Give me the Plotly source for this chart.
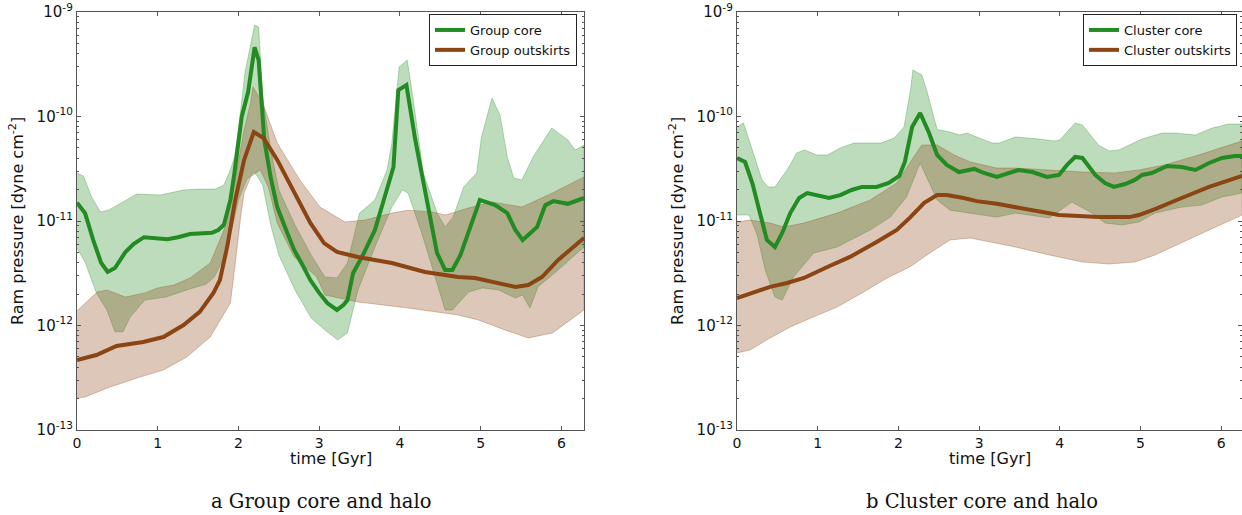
import plotly.graph_objects as go

# ---------------- Left panel: Group ----------------
g_core_t = [0.0, 0.1, 0.2, 0.3, 0.38, 0.47, 0.6, 0.7, 0.83, 1.0, 1.12, 1.25, 1.4, 1.67, 1.75, 1.82, 1.9,
            1.95, 2.04, 2.12, 2.2, 2.25, 2.32, 2.4, 2.48, 2.6, 2.69, 2.8, 2.89, 3.0, 3.1, 3.22, 3.3, 3.35,
            3.42, 3.53, 3.69, 3.8, 3.92, 3.98, 4.08, 4.19, 4.33, 4.46, 4.56, 4.65, 4.75, 4.87, 4.99, 5.18,
            5.33, 5.43, 5.52, 5.7, 5.8, 5.9, 6.08, 6.28]
g_core = [1.5e-11, 1.19e-11, 6.6e-12, 3.96e-12, 3.25e-12, 3.55e-12, 5.05e-12, 6.0e-12, 7.0e-12, 6.9e-12,
          6.7e-12, 7.0e-12, 7.5e-12, 7.7e-12, 8.2e-12, 9.2e-12, 1.59e-11, 2.88e-11, 9.9e-11, 1.72e-10,
          4.6e-10, 3.47e-10, 5.96e-11, 2.58e-11, 1.36e-11, 7.85e-12, 5.28e-12, 3.71e-12, 2.72e-12, 2.05e-12,
          1.64e-12, 1.41e-12, 1.57e-12, 1.75e-12, 3.18e-12, 4.53e-12, 8.2e-12, 1.59e-11, 3.29e-11, 1.79e-10,
          2.0e-10, 5.96e-11, 1.59e-11, 4.94e-12, 3.4e-12, 3.4e-12, 4.73e-12, 8.77e-12, 1.59e-11, 1.42e-11,
          1.19e-11, 8.2e-12, 6.58e-12, 8.77e-12, 1.42e-11, 1.55e-11, 1.46e-11, 1.66e-11]

g_core_hi_t = [0.0, 0.08, 0.18, 0.29, 0.39, 0.55, 0.74, 1.03, 1.32, 1.5, 1.71, 1.82, 1.9, 1.95, 2.0, 2.08,
               2.2, 2.25, 2.3, 2.4, 2.5, 2.7, 2.9, 3.07, 3.22, 3.35, 3.5, 3.69, 3.84, 3.9, 3.99, 4.09, 4.16,
               4.29, 4.46, 4.56, 4.66, 4.79, 4.95, 5.01, 5.14, 5.24, 5.33, 5.41, 5.51, 5.65, 5.88, 6.08,
               6.17, 6.28]
g_core_hi = [2.88e-11, 2.7e-11, 1.7e-11, 1.22e-11, 1.27e-11, 1.5e-11, 1.81e-11, 1.77e-11, 1.98e-11,
             2.02e-11, 2.02e-11, 2.21e-11, 3.08e-11, 4.1e-11, 7.43e-11, 2.61e-10, 7.5e-10, 7.18e-10, 1.54e-10,
             4.78e-11, 1.98e-11, 9.16e-12, 4.73e-12, 2.91e-12, 2.85e-12, 3.96e-12, 1.19e-11, 1.59e-11,
             3.08e-11, 5.58e-11, 2.98e-10, 3.47e-10, 1.54e-10, 2.88e-11, 1.19e-11, 8.77e-12, 1.09e-11,
             2.12e-11, 2.88e-11, 6.37e-11, 1.5e-10, 1.03e-10, 4.1e-11, 2.58e-11, 2.47e-11, 4.1e-11, 7.76e-11,
             5.96e-11, 4.78e-11, 5.33e-11]

g_core_lo_t = [0.0, 0.1, 0.24, 0.37, 0.47, 0.57, 0.66, 0.84, 1.1, 1.36, 1.6, 1.7, 1.81, 1.93, 2.0, 2.1,
               2.2, 2.3, 2.4, 2.5, 2.7, 2.9, 3.07, 3.23, 3.35, 3.48, 3.69, 3.9, 4.03, 4.1, 4.27, 4.56, 4.65,
               4.85, 5.02, 5.22, 5.43, 5.52, 5.61, 5.71, 5.96, 6.28]
g_core_lo = [5.5e-12, 4.05e-12, 2.05e-12, 1.41e-12, 8.7e-13, 8.7e-13, 1.21e-12, 1.75e-12, 1.87e-12,
             2.19e-12, 2.49e-12, 2.91e-12, 4.24e-12, 9.16e-12, 1.59e-11, 2.47e-11, 2.94e-11, 2.21e-11,
             9.16e-12, 4.73e-12, 2.19e-12, 1.18e-12, 9.06e-13, 7.27e-13, 8.48e-13, 2.19e-12, 5.64e-12,
             1.36e-11, 1.98e-11, 1.85e-11, 7.68e-12, 1.41e-12, 1.41e-12, 2.09e-12, 2.29e-12, 2.19e-12,
             1.83e-12, 1.96e-12, 1.47e-12, 2.34e-12, 3.4e-12, 5.64e-12]

g_out_t = [0.0, 0.24, 0.49, 0.82, 1.07, 1.32, 1.52, 1.69, 1.77, 1.86, 1.96, 2.07, 2.19, 2.31, 2.48, 2.69,
           2.89, 3.06, 3.22, 3.48, 3.9, 4.31, 4.72, 4.93, 5.14, 5.43, 5.59, 5.76, 5.96, 6.28]
g_out = [4.68e-13, 5.22e-13, 6.37e-13, 6.95e-13, 7.76e-13, 1.01e-12, 1.35e-12, 2.05e-12, 2.72e-12,
         5.64e-12, 1.59e-11, 3.84e-11, 7.11e-11, 6.23e-11, 3.84e-11, 1.85e-11, 9.57e-12, 6.15e-12,
         5.05e-12, 4.53e-12, 3.96e-12, 3.25e-12, 2.91e-12, 2.85e-12, 2.61e-12, 2.34e-12, 2.44e-12,
         2.91e-12, 4.24e-12, 6.88e-12]

g_out_hi_t = [0.0, 0.25, 0.37, 0.6, 0.84, 1.0, 1.2, 1.4, 1.65, 1.82, 1.95, 2.07, 2.15, 2.18, 2.3, 2.48,
              2.76, 3.01, 3.32, 3.57, 3.9, 4.1, 4.4, 4.56, 4.85, 5.14, 5.51, 5.89, 6.28]
g_out_hi = [1.38e-12, 2.09e-12, 2.19e-12, 1.87e-12, 2.05e-12, 2.29e-12, 2.44e-12, 2.85e-12, 3.96e-12,
            8.2e-12, 2.31e-11, 7.43e-11, 1.35e-10, 1.92e-10, 1.35e-10, 5.58e-11, 2.47e-11, 1.36e-11,
            9.78e-12, 1.02e-11, 1.19e-11, 1.27e-11, 1.22e-11, 1.14e-11, 1.33e-11, 1.52e-11, 1.36e-11,
            1.85e-11, 2.64e-11]

g_out_lo_t = [0.0, 0.1, 0.41, 0.78, 1.07, 1.36, 1.65, 1.9, 1.95, 2.03, 2.07, 2.15, 2.27, 2.37, 2.48, 2.69,
              2.97, 3.07, 3.48, 4.1, 4.72, 4.97, 5.3, 5.59, 5.89, 6.28]
g_out_lo = [2.02e-13, 2.07e-13, 2.58e-13, 3.21e-13, 3.75e-13, 5.0e-13, 7.76e-13, 1.64e-12, 3.4e-12,
            1.14e-11, 1.85e-11, 2.64e-11, 3.08e-11, 2.12e-11, 9.57e-12, 4.53e-12, 2.91e-12, 1.96e-12,
            1.68e-12, 1.47e-12, 1.26e-12, 1.13e-12, 9.06e-13, 7.59e-13, 8.48e-13, 1.41e-12]

# ---------------- Right panel: Cluster ----------------
c_core_t = [0.0, 0.1, 0.19, 0.28, 0.37, 0.47, 0.56, 0.66, 0.77, 0.87, 0.99, 1.14, 1.28, 1.42, 1.55, 1.73,
            1.88, 2.01, 2.08, 2.17, 2.27, 2.38, 2.48, 2.6, 2.75, 2.94, 3.06, 3.22, 3.49, 3.66, 3.84, 3.99,
            4.09, 4.19, 4.28, 4.44, 4.56, 4.67, 4.81, 4.93, 5.02, 5.14, 5.33, 5.51, 5.68, 5.85, 6.01, 6.17,
            6.26]
c_core = [4.01e-11, 3.67e-11, 2.31e-11, 1.19e-11, 6.58e-12, 5.64e-12, 7.68e-12, 1.19e-11, 1.66e-11,
          1.85e-11, 1.77e-11, 1.66e-11, 1.77e-11, 1.98e-11, 2.12e-11, 2.12e-11, 2.31e-11, 2.7e-11, 3.67e-11,
          7.94e-11, 1.08e-10, 6.95e-11, 4.28e-11, 3.44e-11, 2.94e-11, 3.15e-11, 2.88e-11, 2.64e-11,
          3.08e-11, 2.94e-11, 2.64e-11, 2.76e-11, 3.44e-11, 4.1e-11, 4.01e-11, 2.76e-11, 2.31e-11,
          2.12e-11, 2.26e-11, 2.47e-11, 2.76e-11, 2.88e-11, 3.36e-11, 3.28e-11, 3.08e-11, 3.59e-11,
          4.01e-11, 4.19e-11, 4.19e-11]

c_core_hi_t = [0.0, 0.08, 0.19, 0.31, 0.39, 0.47, 0.62, 0.74, 0.84, 0.99, 1.12, 1.28, 1.45, 1.78, 1.95,
               2.07, 2.15, 2.18, 2.29, 2.35, 2.48, 2.64, 2.76, 2.85, 2.97, 3.16, 3.25, 3.45, 3.74, 3.93,
               4.0, 4.19, 4.28, 4.48, 4.61, 4.73, 5.02, 5.27, 5.43, 5.68, 5.89, 6.1, 6.26]
c_core_hi = [7.94e-11, 8.67e-11, 4.78e-11, 2.47e-11, 2.12e-11, 2.12e-11, 3.08e-11, 4.48e-11, 4.78e-11,
             4.28e-11, 4.28e-11, 5.0e-11, 5.57e-11, 5.57e-11, 6.23e-11, 7.94e-11, 1.79e-10, 2.79e-10,
             2.5e-10, 1.79e-10, 7.5e-11, 7.11e-11, 6.65e-11, 6.95e-11, 6.37e-11, 5.57e-11, 5.57e-11,
             6.37e-11, 6.1e-11, 5.83e-11, 5.96e-11, 8.67e-11, 8.29e-11, 5.33e-11, 4.68e-11, 4.78e-11,
             6.1e-11, 6.95e-11, 6.95e-11, 6.65e-11, 7.76e-11, 8.48e-11, 8.48e-11]

c_core_lo_t = [0.0, 0.15, 0.25, 0.35, 0.47, 0.56, 0.7, 0.95, 1.24, 1.65, 1.9, 2.1, 2.27, 2.48, 2.64,
               2.89, 3.04, 3.22, 3.45, 3.87, 4.0, 4.15, 4.4, 4.56, 4.77, 4.98, 5.18, 5.51, 5.76, 6.01, 6.26]
c_core_lo = [1.14e-11, 1.14e-11, 7.35e-12, 3.4e-12, 1.87e-12, 1.75e-12, 2.91e-12, 4.94e-12, 5.64e-12,
             8.2e-12, 1.09e-11, 1.7e-11, 3.59e-11, 1.59e-11, 1.27e-11, 1.19e-11, 1.14e-11, 1.09e-11,
             1.19e-11, 1.07e-11, 1.27e-11, 1.52e-11, 1.19e-11, 9.57e-12, 9.16e-12, 9.78e-12, 1.19e-11,
             1.36e-11, 1.42e-11, 1.7e-11, 1.85e-11]

c_out_t = [0.0, 0.16, 0.41, 0.62, 0.83, 1.12, 1.4, 1.73, 1.98, 2.14, 2.32, 2.48, 2.6, 2.81, 2.97, 3.22,
           3.45, 3.99, 4.48, 4.86, 4.98, 5.18, 5.51, 5.85, 6.26]
c_out = [1.83e-12, 2.0e-12, 2.34e-12, 2.55e-12, 2.85e-12, 3.63e-12, 4.53e-12, 6.3e-12, 8.2e-12, 1.07e-11,
         1.49e-11, 1.77e-11, 1.77e-11, 1.66e-11, 1.55e-11, 1.46e-11, 1.36e-11, 1.14e-11, 1.09e-11,
         1.09e-11, 1.14e-11, 1.3e-11, 1.66e-11, 2.12e-11, 2.7e-11]

c_out_hi_t = [0.0, 0.16, 0.41, 0.58, 0.83, 1.24, 1.65, 1.98, 2.19, 2.29, 2.48, 2.69, 2.89, 3.22, 3.45,
              3.87, 4.28, 4.68, 4.98, 5.3, 5.72, 6.26]
c_out_hi = [9.78e-12, 1.02e-11, 9.57e-12, 8.77e-12, 9.57e-12, 1.19e-11, 1.59e-11, 2.31e-11, 4.1e-11,
            5.33e-11, 5.33e-11, 4.28e-11, 3.67e-11, 3.21e-11, 3.21e-11, 3.08e-11, 2.94e-11, 2.88e-11,
            3.08e-11, 3.44e-11, 4.28e-11, 5.83e-11]

c_out_lo_t = [0.0, 0.16, 0.41, 0.66, 0.95, 1.24, 1.57, 1.86, 2.14, 2.39, 2.64, 2.89, 3.22, 3.45, 3.87,
              4.28, 4.61, 4.93, 5.18, 5.51, 5.85, 6.26]
c_out_lo = [5.46e-13, 5.83e-13, 7.59e-13, 9.68e-13, 1.21e-12, 1.5e-12, 2.09e-12, 2.85e-12, 3.63e-12,
            4.94e-12, 6.58e-12, 6.88e-12, 6.15e-12, 5.64e-12, 4.73e-12, 4.05e-12, 3.88e-12, 4.05e-12,
            4.73e-12, 6.15e-12, 8.2e-12, 1.14e-11]

# Axis ticks
x_ticks = [0, 1, 2, 3, 4, 5, 6]
y_ticks = [1e-13, 1e-12, 1e-11, 1e-10, 1e-9]
y_ticktext = ["10<sup>-13</sup>", "10<sup>-12</sup>", "10<sup>-11</sup>", "10<sup>-10</sup>", "10<sup>-9</sup>"]
y_minor = [m * d for d in [1e-13, 1e-12, 1e-11, 1e-10] for m in range(2, 10)]

GREEN = "#228B22"
BROWN = "#8B4513"
GREEN_FILL = "rgba(34,139,34,0.3)"
BROWN_FILL = "rgba(139,69,19,0.3)"
FONT = "DejaVu Sans"
TXT = "#111111"

fig = go.Figure()


def band(t_hi, hi, t_lo, lo, fill, xa, ya):
    fig.add_trace(go.Scatter(
        x=list(t_hi) + list(t_lo)[::-1], y=list(hi) + list(lo)[::-1],
        fill="toself", fillcolor=fill, mode="lines",
        line=dict(color=fill, width=1), hoverinfo="skip", showlegend=False,
        xaxis=xa, yaxis=ya))


def line(t, v, color, name, xa, ya, legend):
    fig.add_trace(go.Scatter(
        x=t, y=v, mode="lines", line=dict(color=color, width=4), name=name,
        xaxis=xa, yaxis=ya, legend=legend))


# Left panel
band(g_core_hi_t, g_core_hi, g_core_lo_t, g_core_lo, GREEN_FILL, "x", "y")
band(g_out_hi_t, g_out_hi, g_out_lo_t, g_out_lo, BROWN_FILL, "x", "y")
line(g_core_t, g_core, GREEN, "Group core", "x", "y", "legend")
line(g_out_t, g_out, BROWN, "Group outskirts", "x", "y", "legend")

# Right panel
band(c_core_hi_t, c_core_hi, c_core_lo_t, c_core_lo, GREEN_FILL, "x2", "y2")
band(c_out_hi_t, c_out_hi, c_out_lo_t, c_out_lo, BROWN_FILL, "x2", "y2")
line(c_core_t, c_core, GREEN, "Cluster core", "x2", "y2", "legend2")
line(c_out_t, c_out, BROWN, "Cluster outskirts", "x2", "y2", "legend2")

W, H = 1242, 515
AX = "#555555"

xcommon = dict(showline=True, linecolor=AX, linewidth=1.3, mirror="allticks", ticks="inside",
               ticklen=4, tickcolor=AX, tickvals=x_ticks, showgrid=False, zeroline=False,
               automargin=False, tickfont=dict(family=FONT, size=14, color=TXT))
ycommon = dict(type="log", range=[-13, -9], showline=True, linecolor=AX, linewidth=1.3,
               mirror="allticks", ticks="inside", ticklen=4, tickcolor=AX, tickvals=y_ticks,
               ticktext=y_ticktext, showgrid=False, zeroline=False, automargin=False,
               tickfont=dict(family=FONT, size=15, color=TXT),
               minor=dict(tickvals=y_minor, ticks="inside", ticklen=2, tickcolor=AX, showgrid=False),
               domain=[1 - 430 / H, 1 - 12 / H])

leg = dict(yanchor="top", xanchor="right", bgcolor="white", bordercolor="#222", borderwidth=1,
           font=dict(family=FONT, size=13, color=TXT), tracegroupgap=0)

fig.update_layout(
    template="none",
    width=W, height=H, margin=dict(l=0, r=0, t=0, b=0, autoexpand=False),
    paper_bgcolor="white", plot_bgcolor="white",
    font=dict(family=FONT, size=14, color=TXT),
    xaxis=dict(xcommon, domain=[77 / W, 584 / W], range=[0, 6.28], anchor="y"),
    yaxis=dict(ycommon, anchor="x"),
    xaxis2=dict(xcommon, domain=[737 / W, 1.0], range=[0, 6.258], anchor="y2"),
    yaxis2=dict(ycommon, anchor="x2"),
    legend=dict(leg, x=577 / W, y=1 - 14 / H),
    legend2=dict(leg, x=1237 / W, y=1 - 14 / H),
    showlegend=True,
)

ann = []
for xc in [(77 + 584) / 2, (737 + 1242) / 2]:
    ann.append(dict(text="time [Gyr]", x=xc / W, y=1 - 458 / H, xref="paper", yref="paper",
                    showarrow=False, xanchor="center", yanchor="middle",
                    font=dict(family=FONT, size=16, color=TXT)))
for xc in [16, 676]:
    ann.append(dict(text="Ram pressure [dyne cm<sup>-2</sup>]", x=xc / W, y=1 - 221 / H,
                    xref="paper", yref="paper", showarrow=False, textangle=-90,
                    xanchor="center", yanchor="middle", font=dict(family=FONT, size=16, color=TXT)))
for xc, txt in [(321, "a Group core and halo"), (982, "b Cluster core and halo")]:
    ann.append(dict(text=txt, x=xc / W, y=1 - 501 / H, xref="paper", yref="paper", showarrow=False,
                    xanchor="center", yanchor="middle",
                    font=dict(family="DejaVu Serif", size=19.5, color=TXT)))
fig.update_layout(annotations=ann)

fig.write_html("out.html")
